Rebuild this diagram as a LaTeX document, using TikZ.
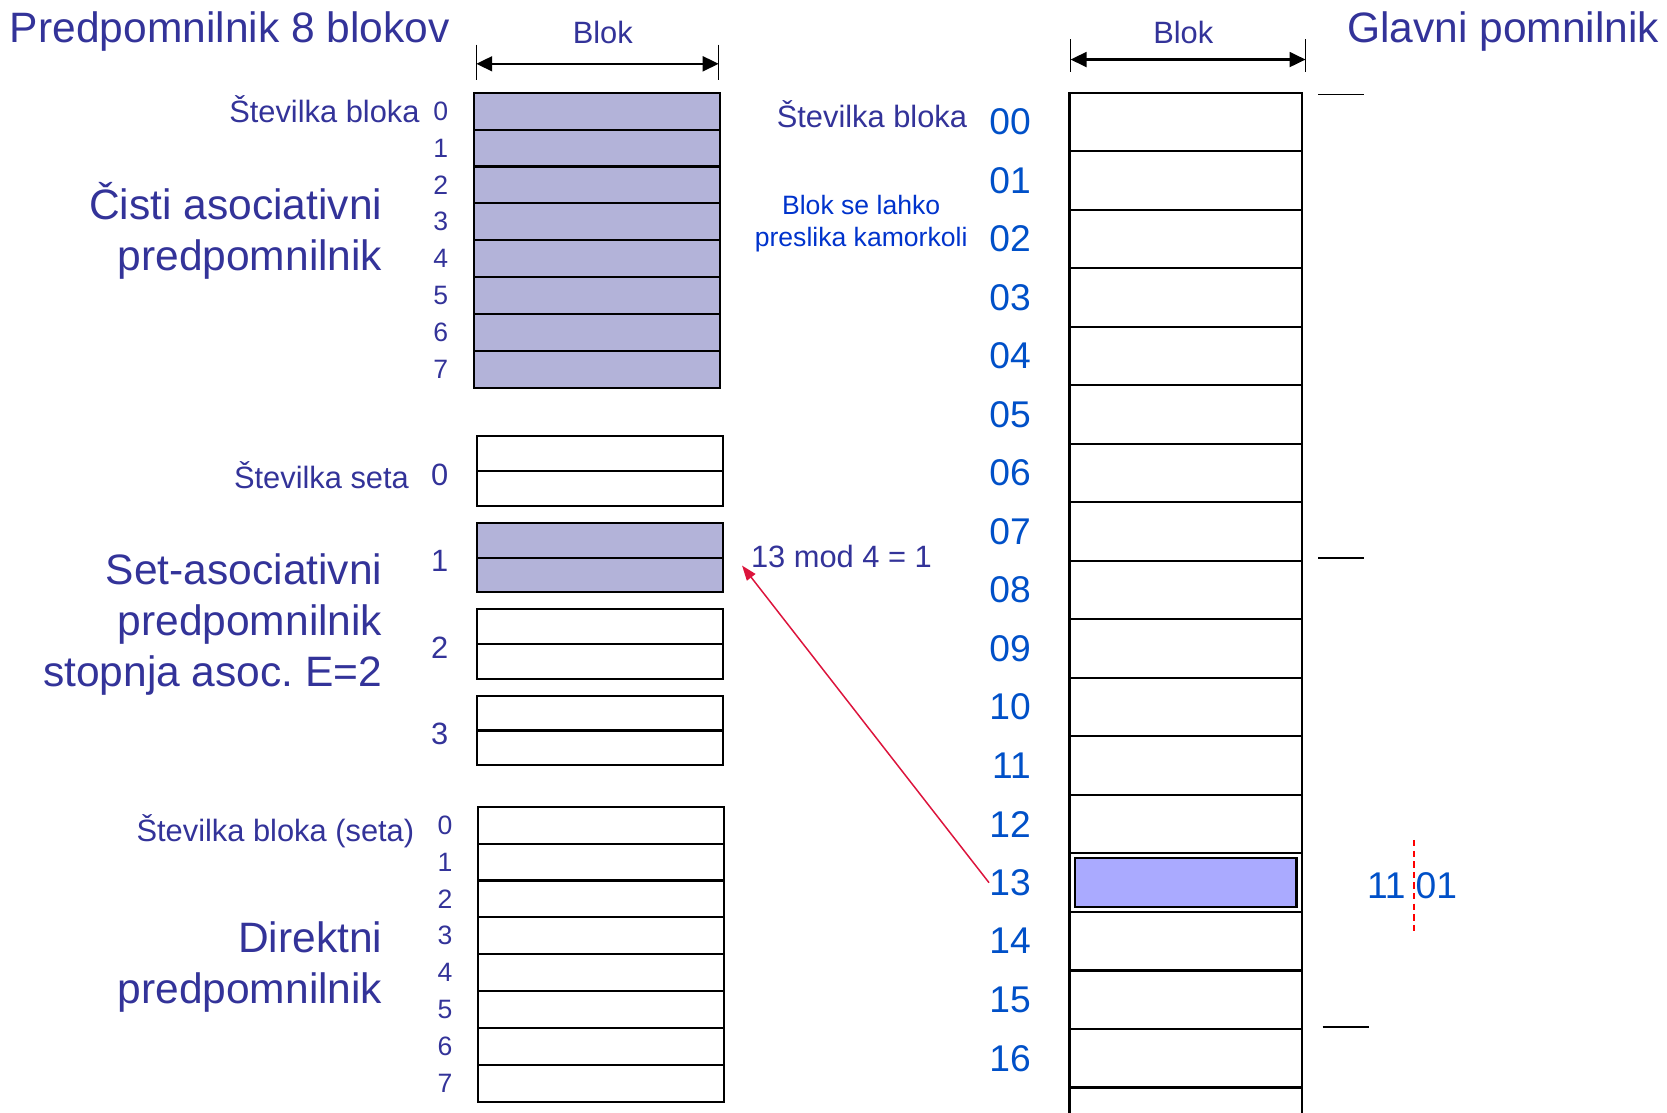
\documentclass[tikz,border=0pt]{standalone}
\usepackage{fontspec}
\setmainfont{Liberation Sans}
\usepackage{tikz}
\usetikzlibrary{positioning, arrows.meta, calc}

\definecolor{txtblue}{RGB}{51,51,153}
\definecolor{numblue}{RGB}{0,80,200}
\definecolor{hintblue}{RGB}{0,51,204}
\definecolor{cachefill}{RGB}{179,179,217}
\definecolor{memfill}{RGB}{170,170,255}
\definecolor{arrowred}{RGB}{220,20,60}

\begin{document}
\begin{tikzpicture}[x=0.5pt, y=-0.5pt,
      row/.style={draw, line width=1pt, minimum width=115.5pt, inner sep=0pt, outer sep=0pt, anchor=north west},
      farow/.style={row, fill=cachefill, minimum height=17.35pt},
      setrow/.style={row, minimum height=16.35pt},
      dmrow/.style={row, minimum height=17.35pt},
      memrow/.style={row, minimum width=109.5pt, minimum height=27.52pt},
      idx/.style={text=txtblue, font=\fontsize{12.5}{14}\selectfont, inner sep=0pt},
      lbl/.style={text=txtblue, font=\fontsize{14.5}{17}\selectfont, inner sep=0pt},
      bigtxt/.style={text=txtblue, font=\fontsize{20}{24}\selectfont, align=right, inner sep=0pt},
      memnum/.style={text=numblue, font=\fontsize{17.5}{20}\selectfont, inner sep=0pt},
      dimarrow/.style={{Triangle[length=7.5pt,width=7pt]}-{Triangle[length=7.5pt,width=7pt]}, line width=1pt},
      redarrow/.style={-{Triangle[length=7pt,width=5pt]}, draw=arrowred, line width=0.7pt}]
    \useasboundingbox (0,0) rectangle (1568,1046);

    % titles
    \node[bigtxt, anchor=west] (ctitle) at (9,30) {Predpomnilnik 8 blokov};
    \node[bigtxt, anchor=east] (mtitle) at (1561,30) {Glavni pomnilnik};

    % block width marks
    \draw[line width=0.6pt] (448,42) -- (448,75) (676,42) -- (676,75);
    \coordinate (bl1) at (448,60);
    \coordinate (br1) at (676,60);
    \draw[dimarrow] (bl1) -- (br1);
    \node[lbl] (blk1) at (567,31) {Blok};
    \draw[line width=0.6pt] (1007,37) -- (1007,68) (1228,37) -- (1228,68);
    \coordinate (bl2) at (1007,56);
    \coordinate (br2) at (1228,56);
    \draw[dimarrow] (bl2) -- (br2);
    \node[lbl] (blk2) at (1113,31) {Blok};

    % fully associative cache
    \foreach \i in {0,...,7}{
      \node[farow] (fa\i) at (446,87.2+34.7*\i) {};
      \node[idx, left=12pt of fa\i] (fan\i) {\i};
    }
    \node[lbl, anchor=east] (faname) at (395,103) {Številka bloka};
    \node[bigtxt, anchor=east] (fatxt) at (360,217) {Čisti asociativni\\predpomnilnik};

    % set associative cache
    \foreach \i in {0,...,3}{
      \node[setrow] (sa\i) at (449,410.5+81.3*\i) {};
      \node[setrow, below=0pt of sa\i] (sb\i) {};
      \node[lbl, anchor=east] (sn\i) at ($(sa\i.south west)+(-27,3)$) {\i};
    }
    \fill[cachefill] (sa1.north west) rectangle (sb1.south east);
    \draw[line width=1pt] (sa1.north west) rectangle (sb1.south east) (sa1.south west) -- (sa1.south east);
    \node[lbl, anchor=east] (setname) at (385,447) {Številka seta};
    \node[bigtxt, anchor=east] (settxt) at (360,587) {Set-asociativni\\predpomnilnik\\stopnja asoc.\ E=2};

    % direct mapped cache
    \foreach \i in {0,...,7}{
      \node[dmrow] (dm\i) at (450,758.8+34.7*\i) {};
      \node[idx, left=12pt of dm\i] (dmn\i) {\i};
    }
    \node[lbl, anchor=east] (dmname) at (390,782) {Številka bloka (seta)};
    \node[bigtxt, anchor=east] (dmtxt) at (360,910) {Direktni\\predpomnilnik};

    % main memory
    \foreach \i in {0,...,16}{
      \node[memrow] (mm\i) at (1006,87.2+55.04*\i) {};
      \node[memnum, left=18pt of mm\i] (n\i) {\ifnum\i<10 0\fi\i};
    }
    \draw[line width=1pt] (mm16.south west) -- ++(0,24) (mm16.south east) -- ++(0,24);
    \node[draw, line width=1pt, fill=memfill, minimum width=104pt, minimum height=23pt, inner sep=0pt] (hit) at (mm13) {};
    \node[lbl, anchor=east] (mmname) at (910,107) {Številka bloka};
    \node[text=hintblue, font=\fontsize{12.5}{15}\selectfont, align=center, inner sep=0pt] (hint) at (810,210) {Blok se lahko\\preslika kamorkoli};

    % every 8 blocks
    \draw[line width=0.8pt] (1240,89) -- (1283,89) (1240,525) -- (1283,525) (1244,966) -- (1288,966);

    % mapping of block 13
    \node[memnum] (tagA) at (1304,833) {11};
    \node[memnum] (tagB) at (1351,833) {01};
    \draw[red, line width=0.6pt, dash pattern=on 3pt off 2pt] (1330,790) -- (1330,878);
    \node[lbl, anchor=west] (modtxt) at (706,523) {13 mod 4 = 1};
    \coordinate (tip) at (698,532);
    \draw[redarrow] (n13.west) -- (tip);
  \end{tikzpicture}
\end{document}
